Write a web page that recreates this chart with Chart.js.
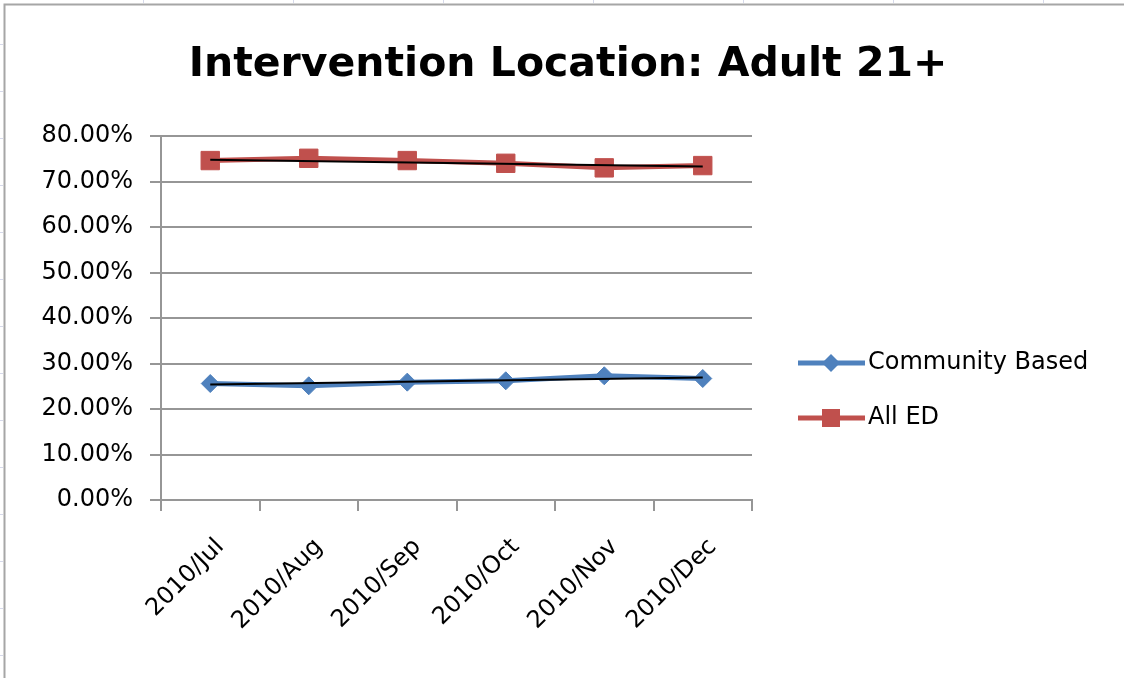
<!DOCTYPE html>
<html>
<head>
<meta charset="utf-8">
<script src="https://cdn.jsdelivr.net/npm/chart.js@4"></script>
<style>
  html, body { margin: 0; padding: 0; background: #fff; }
  #wrap { width: 1124px; height: 678px; position: relative; }
</style>
</head>
<body>
<div id="wrap"><canvas id="locChart" width="1124" height="678"></canvas></div>
<script>
// values (percent)
const months = ['2010/Jul', '2010/Aug', '2010/Sep', '2010/Oct', '2010/Nov', '2010/Dec'];
const communityBased = [25.6, 25.1, 25.9, 26.2, 27.3, 26.7];
const allED = [74.6, 75.1, 74.6, 74.0, 73.0, 73.5];
// linear trendlines: only their end points
const trendCommunity = [25.4, null, null, null, null, 26.9];
const trendAllED = [74.8, null, null, null, null, 73.3];
const yTicks = [0, 10, 20, 30, 40, 50, 60, 70, 80];

const BLUE = '#4F81BD';
const RED = '#C0504D';
const GRID = '#969696';
const FONT = "'DejaVu Sans', sans-serif";

// frame, title and legend drawn like the Excel chart
const decor = {
    id: 'decor',
    beforeDraw(chart) {
        const c = chart.ctx;
        c.save();
        c.fillStyle = '#fff';
        c.fillRect(0, 0, chart.width, chart.height);
        // spreadsheet cell marks peeking out
        c.strokeStyle = '#d6d9ea';
        c.lineWidth = 1;
        for (let x = 143; x < chart.width; x += 150) {
            c.beginPath(); c.moveTo(x + 0.5, 0); c.lineTo(x + 0.5, 3); c.stroke();
        }
        for (let y = 44; y < chart.height; y += 47) {
            c.beginPath(); c.moveTo(0, y + 0.5); c.lineTo(3, y + 0.5); c.stroke();
        }
        c.strokeStyle = '#a6a6a6';
        c.lineWidth = 2;
        c.beginPath();
        c.moveTo(4.5, chart.height);
        c.lineTo(4.5, 4.5);
        c.lineTo(chart.width, 4.5);
        c.stroke();
        c.restore();
    },
    afterDraw(chart) {
        const c = chart.ctx;
        c.save();
        c.fillStyle = '#000';
        c.font = "bold 41px " + FONT;
        c.textAlign = 'center';
        c.textBaseline = 'alphabetic';
        c.fillText('Intervention Location: Adult 21+', 568, 76);

        const items = [
            { text: 'Community Based', color: BLUE, shape: 'diamond', y: 363 },
            { text: 'All ED', color: RED, shape: 'square', y: 418 }
        ];
        c.font = "24px " + FONT;
        c.textAlign = 'left';
        c.textBaseline = 'middle';
        items.forEach(it => {
            c.strokeStyle = it.color;
            c.fillStyle = it.color;
            c.lineWidth = 5;
            c.beginPath(); c.moveTo(798, it.y); c.lineTo(865, it.y); c.stroke();
            c.beginPath();
            if (it.shape === 'diamond') {
                c.moveTo(831 - 9, it.y); c.lineTo(831, it.y - 9);
                c.lineTo(831 + 9, it.y); c.lineTo(831, it.y + 9);
                c.closePath();
            } else {
                c.rect(831 - 9, it.y - 9, 18, 18);
            }
            c.fill();
            c.fillStyle = '#000';
            c.fillText(it.text, 868, it.y);
        });
        c.restore();
    }
};

new Chart(document.getElementById('locChart').getContext('2d'), {
    type: 'line',
    data: {
        labels: months,
        datasets: [
            {
                label: 'Community Based',
                data: communityBased,
                borderColor: BLUE,
                backgroundColor: BLUE,
                borderWidth: 5,
                pointStyle: 'rectRot',
                pointRadius: 9,
                pointBorderWidth: 1,
                order: 1
            },
            {
                label: 'All ED',
                data: allED,
                borderColor: RED,
                backgroundColor: RED,
                borderWidth: 5,
                pointStyle: 'rect',
                pointRadius: 13,
                pointBorderWidth: 1,
                order: 1
            },
            {
                label: 'Trend Community Based',
                data: trendCommunity,
                borderColor: '#000',
                borderWidth: 2,
                pointRadius: 0,
                spanGaps: true,
                order: 0
            },
            {
                label: 'Trend All ED',
                data: trendAllED,
                borderColor: '#000',
                borderWidth: 2,
                pointRadius: 0,
                spanGaps: true,
                order: 0
            }
        ]
    },
    options: {
        responsive: false,
        animation: false,
        events: [],
        layout: { padding: { top: 136, right: 372, left: 0, bottom: 0 } },
        plugins: {
            legend: { display: false },
            title: { display: false },
            tooltip: { enabled: false }
        },
        scales: {
            x: {
                offset: true,
                grid: {
                    offset: true,
                    drawOnChartArea: false,
                    color: GRID,
                    lineWidth: 2,
                    tickLength: 11
                },
                border: { color: GRID, width: 2 },
                ticks: {
                    color: '#000',
                    font: { family: FONT, size: 24 },
                    minRotation: 45,
                    maxRotation: 45,
                    padding: 22,
                    labelOffset: 10
                },
                afterFit(scale) { scale.height = 178; }
            },
            y: {
                min: 0,
                max: 80,
                afterBuildTicks(scale) { scale.ticks = yTicks.map(v => ({ value: v })); },
                grid: { color: GRID, lineWidth: 2, tickLength: 11 },
                border: { color: GRID, width: 2 },
                ticks: {
                    color: '#000',
                    font: { family: FONT, size: 24 },
                    padding: 17,
                    callback: v => v.toFixed(2) + '%'
                },
                afterFit(scale) { scale.width = 161; }
            }
        }
    },
    plugins: [decor]
});
</script>
</body>
</html>
